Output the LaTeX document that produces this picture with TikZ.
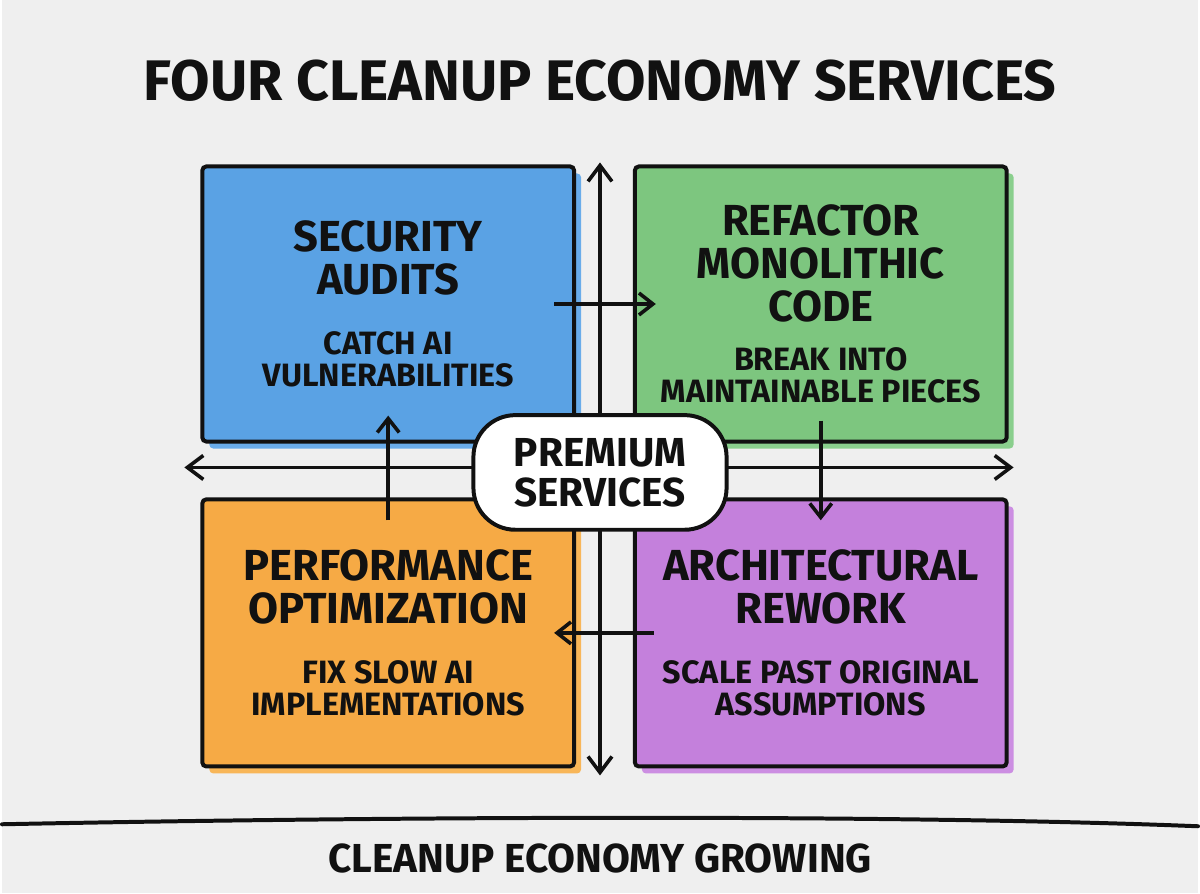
\documentclass[tikz,border=0pt]{standalone}
\usepackage{fontspec}
\setmainfont{Fira Sans}
\usepackage{tikz}
\usetikzlibrary{arrows.meta, positioning, shadows}
\definecolor{paper}{HTML}{EFEFEF}
\definecolor{inkblack}{HTML}{111111}
\definecolor{secblue}{HTML}{5AA2E4}
\definecolor{secshade}{HTML}{69ACEA}
\definecolor{refgreen}{HTML}{7DC67F}
\definecolor{refshade}{HTML}{8ACF8D}
\definecolor{perforange}{HTML}{F6AA45}
\definecolor{perfshade}{HTML}{F8B658}
\definecolor{archpurple}{HTML}{C480DC}
\definecolor{archshade}{HTML}{CC8EE2}
\newcommand{\titlefont}{\fontsize{28.7}{29}\selectfont\bfseries}
\newcommand{\headfont}{\fontsize{21.8}{21.5}\selectfont\bfseries}
\newcommand{\subfont}{\fontsize{16.2}{16}\selectfont\bfseries}
\newcommand{\trendfont}{\fontsize{20.3}{20}\selectfont\bfseries}
\tikzstyle{servicebox} = [rectangle, rounded corners=2pt, minimum width=186.5pt, minimum height=138pt,
  align=center, draw=inkblack, text=inkblack, line width=2pt, font=\headfont]
\tikzstyle{secbox} = [servicebox, fill=secblue,
  drop shadow={shadow xshift=3.5pt, shadow yshift=-3.5pt, fill=secshade, opacity=1}]
\tikzstyle{refbox} = [servicebox, fill=refgreen,
  drop shadow={shadow xshift=3.5pt, shadow yshift=-3.5pt, fill=refshade, opacity=1}]
\tikzstyle{perfbox} = [servicebox, fill=perforange, minimum height=134pt,
  drop shadow={shadow xshift=3.5pt, shadow yshift=-3.5pt, fill=perfshade, opacity=1}]
\tikzstyle{archbox} = [servicebox, fill=archpurple, minimum height=134pt,
  drop shadow={shadow xshift=3.5pt, shadow yshift=-3.5pt, fill=archshade, opacity=1}]
\tikzstyle{hubbox} = [rectangle, rounded corners=21pt, minimum width=127pt, minimum height=57.5pt,
  align=center, draw=inkblack, fill=white, text=inkblack, line width=2pt,
  font=\fontsize{20.3}{20}\selectfont\bfseries]
\tikzstyle{axis} = [inkblack, line width=1.8pt,
  {Straight Barb[length=8pt, width=12pt]}-{Straight Barb[length=8pt, width=12pt]}]
\tikzstyle{flow} = [inkblack, line width=1.8pt, -{Straight Barb[length=7pt, width=11pt]}]

\begin{document}
\begin{tikzpicture}[x=0.5pt, y=-0.5pt, node distance=27pt and 28.5pt]

  % === CANVAS ===
  \fill[paper] (0,0) rectangle (1200,896);

  % === TITLE ===
  \node (title) [anchor=base, font=\titlefont, text=inkblack] at (600,101)
    {FOUR CLEANUP ECONOMY SERVICES};

  % === SERVICE BOXES ===
  \node (sec) [secbox] at (387.5,305)
    {SECURITY\\AUDITS\\[8.5pt]\subfont CATCH AI\\[-5.5pt]\subfont VULNERABILITIES};
  \node (ref) [refbox, right=of sec]
    {REFACTOR\\MONOLITHIC\\CODE\\[3.5pt]\subfont BREAK INTO\\[-5.5pt]\subfont MAINTAINABLE PIECES};
  \node (perf) [perfbox, below=of sec]
    {PERFORMANCE\\OPTIMIZATION\\[8.5pt]\subfont FIX SLOW AI\\[-5.5pt]\subfont IMPLEMENTATIONS};
  \node (arch) [archbox, right=of perf]
    {ARCHITECTURAL\\REWORK\\[8.5pt]\subfont SCALE PAST ORIGINAL\\[-5.5pt]\subfont ASSUMPTIONS};

  % === AXES ===
  \coordinate (ytop) at (600,163);
  \coordinate (ybot) at (600,778);
  \coordinate (xleft) at (183,469);
  \coordinate (xright) at (1015,469);
  \draw[axis] (ytop) -- (ybot);
  \draw[axis] (xleft) -- (xright);

  % === CYCLE ARROWS ===
  \draw[flow, shorten <=-11pt, shorten >=-11.5pt] (sec.east) -- (ref.west);
  \draw[flow, shorten <=-11.5pt, shorten >=-11.5pt] (ref.south) -- (arch.north);
  \draw[flow, shorten <=-10.5pt, shorten >=-11pt] (arch.west) -- (perf.east);
  \draw[flow, shorten <=-11.5pt, shorten >=-14pt] (perf.north) -- (sec.south);

  % === HUB ===
  \node (hub) [hubbox] at (600,474) {PREMIUM\\SERVICES};

  % === FOOTER ===
  \draw[inkblack, line width=2pt, line cap=round]
    (0,827) .. controls (400,819) and (900,817) .. (1200,829);
  \node (trend) [anchor=base, font=\trendfont, text=inkblack] at (600,875)
    {CLEANUP ECONOMY GROWING};

\end{tikzpicture}
\end{document}
